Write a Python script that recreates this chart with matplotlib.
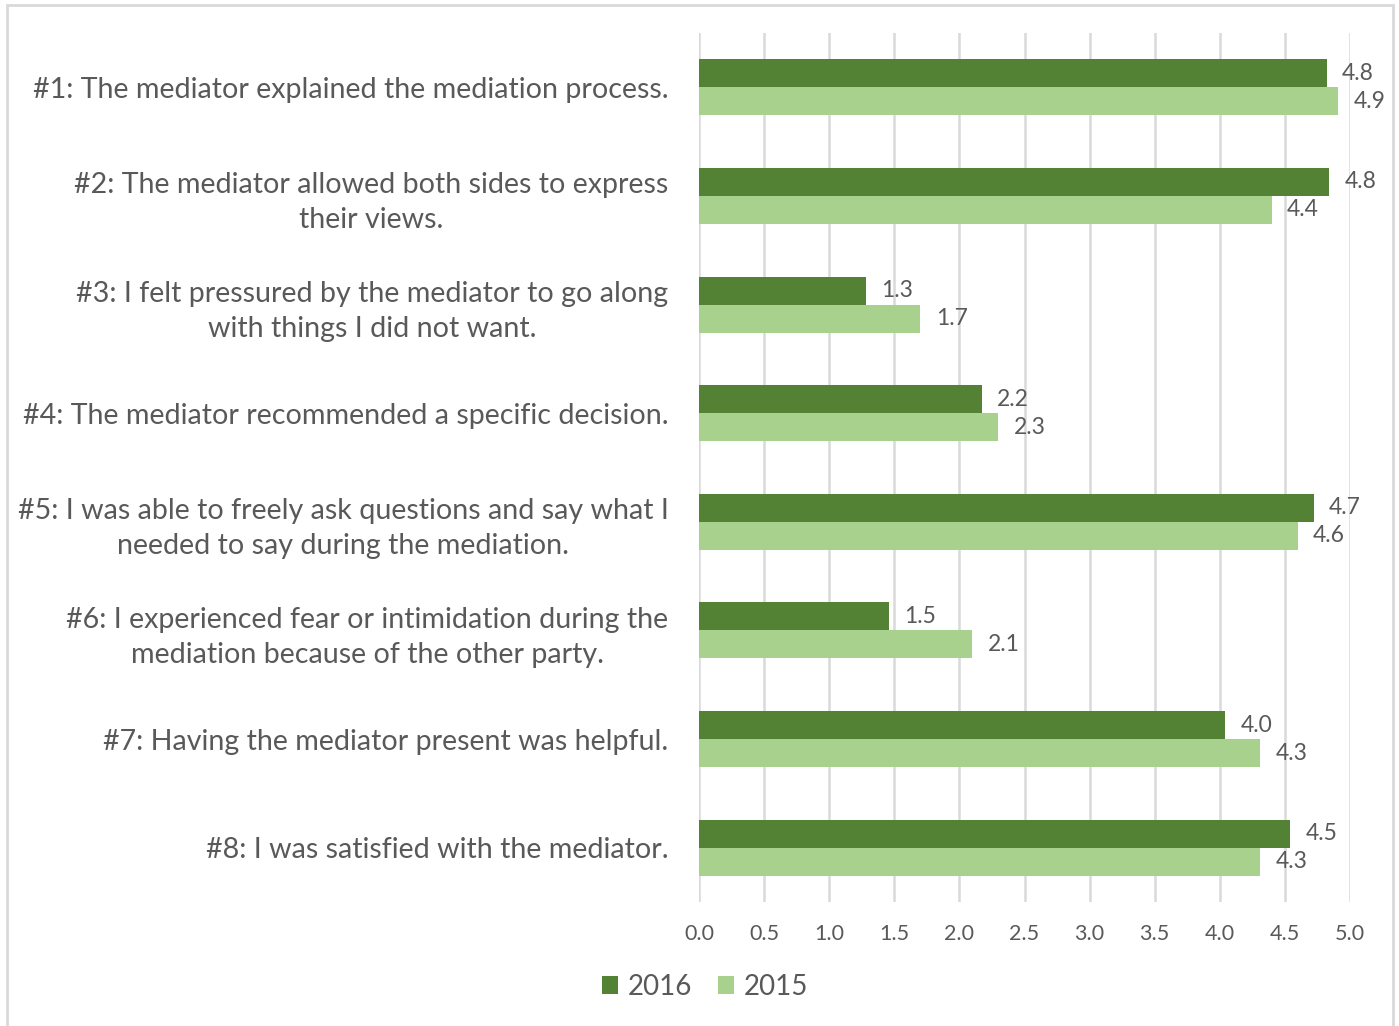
import numpy as np
import matplotlib.pyplot as plt
from matplotlib.patches import Rectangle

# 调解满意度调查，两年平均分
questions = [
    "#1: The mediator explained the mediation process.",
    "#2: The mediator allowed both sides to express\ntheir views.",
    "#3: I felt pressured by the mediator to go along\nwith things I did not want.",
    "#4: The mediator recommended a specific decision.",
    "#5: I was able to freely ask questions and say what I\nneeded to say during the mediation.",
    "#6: I experienced fear or intimidation during the\nmediation because of the other party.",
    "#7: Having the mediator present was helpful.",
    "#8: I was satisfied with the mediator.",
]
score_2016 = [4.82, 4.84, 1.28, 2.17, 4.72, 1.46, 4.04, 4.54]
score_2015 = [4.91, 4.40, 1.70, 2.30, 4.60, 2.10, 4.31, 4.31]
x_ticks = [0.0, 0.5, 1.0, 1.5, 2.0, 2.5, 3.0, 3.5, 4.0, 4.5, 5.0]

c_2016 = '#548235'
c_2015 = '#a9d18e'
grey = '#595959'
grid_c = '#d9d9d9'

plt.rcParams['font.family'] = ['Lato', 'DejaVu Sans']

fig = plt.figure(figsize=(13.99, 10.26), dpi=100)
ax = fig.add_axes([699 / 1399, 1 - 902 / 1026, (1350 - 699) / 1399, (902 - 33) / 1026])

y = np.arange(len(questions))
h = 0.258
ax.barh(y - h / 2, score_2016, height=h, color=c_2016, label='2016', zorder=3)
ax.barh(y + h / 2, score_2015, height=h, color=c_2015, label='2015', zorder=3)

# 数值标签
for i in range(len(questions)):
    ax.annotate('%.1f' % score_2016[i], (score_2016[i], y[i] - h / 2), xytext=(11, 0),
                textcoords='offset points', va='center', ha='left', fontsize=16.5, color=grey)
    ax.annotate('%.1f' % score_2015[i], (score_2015[i], y[i] + h / 2), xytext=(11, 0),
                textcoords='offset points', va='center', ha='left', fontsize=16.5, color=grey)

ax.set_xlim(0, 5.0)
ax.set_ylim(len(questions) - 0.5, -0.5)
ax.set_xticks(x_ticks)
ax.set_xticklabels(['%.1f' % v for v in x_ticks], fontsize=15.5, color=grey)
ax.set_yticks(y)
ax.set_yticklabels(questions, fontsize=20.6, color=grey, linespacing=1.42)
for t in ax.get_yticklabels():
    t.set_multialignment('center')
ax.tick_params(axis='x', length=0, pad=16)
ax.tick_params(axis='y', length=0, pad=22)
ax.grid(axis='x', color=grid_c, linewidth=1.8, zorder=0)
for s in ax.spines.values():
    s.set_visible(False)

leg = fig.legend(loc='center', bbox_to_anchor=(705 / 1399, 1 - 987 / 1026), ncol=2,
                 frameon=False, fontsize=20, handlelength=0.6, handleheight=0.6,
                 handletextpad=0.35, columnspacing=0.9, labelcolor=grey)

# 外框
fig.patches.append(Rectangle((7 / 1399, -0.01), (1393 - 7) / 1399, 1 - 5 / 1026 + 0.01,
                             transform=fig.transFigure, fill=False, edgecolor=grid_c,
                             linewidth=2))

plt.savefig('out.png', dpi=100)
